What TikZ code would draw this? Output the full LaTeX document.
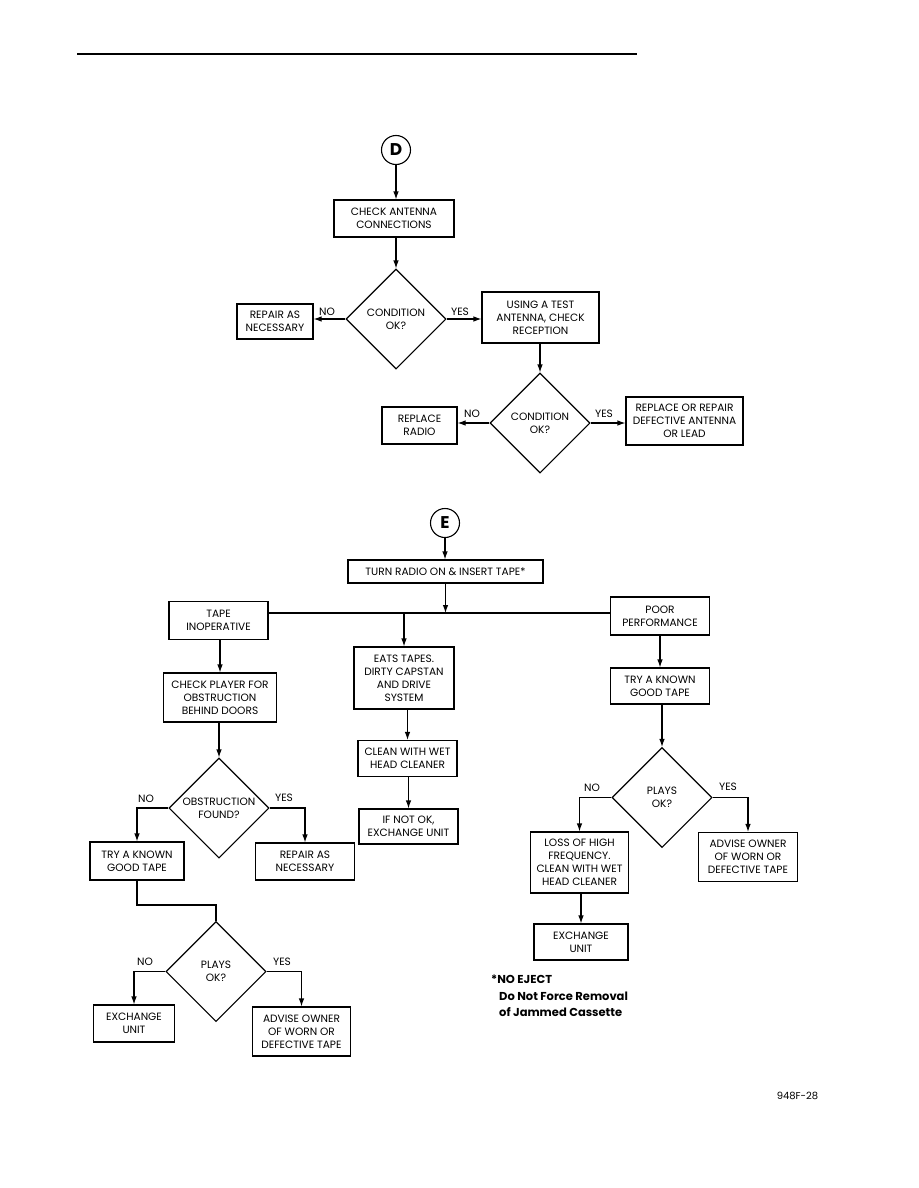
\documentclass[tikz,border=0pt]{standalone}
\usepackage{fontspec}
\setmainfont{Poppins}
\usetikzlibrary{arrows.meta,shapes.geometric}
\begin{document}
\begin{tikzpicture}[x=1pt,y=-1pt,
  every node/.style={font=\fontsize{10.6}{13}\selectfont},
  box/.style={draw,line width=1.1pt,rectangle,inner sep=0pt,align=center},
  dia/.style={draw,line width=1.1pt,diamond,aspect=1,inner sep=0pt,minimum width=100pt,minimum height=100pt,align=center},
  circ/.style={draw,line width=1.1pt,circle,inner sep=0pt,minimum size=29pt,font=\fontsize{17}{17}\selectfont\bfseries},
  lbl/.style={inner sep=0pt},
  conn/.style={line width=1.1pt},
  arr/.style={line width=1.1pt,-{Latex[length=8pt,width=5.5pt]}}
]
\useasboundingbox (0,0) rectangle (918,1188);
\draw[line width=2pt] (77,54) -- (637,54);

% ---- D section ----
\node[circ] (D) at (396,150) {D};
\node[box,minimum width=120pt,minimum height=37pt] (b1) at (394,218.5) {CHECK ANTENNA\\CONNECTIONS};
\node[dia] (d1) at (396,319) {CONDITION\\OK?};
\node[box,minimum width=76pt,minimum height=35pt] (r1) at (275,321.5) {REPAIR AS\\NECESSARY};
\node[box,minimum width=117pt,minimum height=51pt] (u1) at (540.5,317.5) {USING A TEST\\ANTENNA, CHECK\\RECEPTION};
\node[dia] (d2) at (540,423) {CONDITION\\OK?};
\node[box,minimum width=75pt,minimum height=37pt] (rr) at (419.5,425.5) {REPLACE\\RADIO};
\node[box,minimum width=117pt,minimum height=48pt] (rp) at (684.5,421) {REPLACE OR REPAIR\\DEFECTIVE ANTENNA\\OR LEAD};

\draw[arr] (D.south) -- (D.south |- b1.north);
\draw[arr] (d1.north |- b1.south) -- (d1.north);
\draw[arr] (d1.west) -- (d1.west -| r1.east);
\draw[arr] (d1.east) -- (d1.east -| u1.west);
\draw[arr] (d2.north |- u1.south) -- (d2.north);
\draw[arr] (d2.west) -- (d2.west -| rr.east);
\draw[arr] (d2.east) -- (d2.east -| rp.west);
\node[lbl] (n1) at (327,312) {NO};
\node[lbl] (y1) at (460,312) {YES};
\node[lbl] (n2) at (472,414) {NO};
\node[lbl] (y2) at (604,414) {YES};

% ---- E section ----
\node[circ] (E) at (445,523) {E};
\node[box,minimum width=195pt,minimum height=23pt] (t) at (445.5,571.5) {TURN RADIO ON \& INSERT TAPE*};
\coordinate (j) at (445.5,613);
\node[box,minimum width=99pt,minimum height=38pt] (ti) at (218.5,620.5) {TAPE\\INOPERATIVE};
\node[box,minimum width=99pt,minimum height=38pt] (pp) at (660,616) {POOR\\PERFORMANCE};
\node[box,minimum width=100pt,minimum height=62pt] (et) at (404,678) {EATS TAPES.\\DIRTY CAPSTAN\\AND DRIVE\\SYSTEM};
\node[box,minimum width=99pt,minimum height=36pt] (cl) at (407.5,758.5) {CLEAN WITH WET\\HEAD CLEANER};
\node[box,minimum width=99pt,minimum height=35pt] (ifn) at (408.5,826.5) {IF NOT OK,\\EXCHANGE UNIT};
\node[box,minimum width=113pt,minimum height=49pt] (cp) at (220,697.5) {CHECK PLAYER FOR\\OBSTRUCTION\\BEHIND DOORS};
\node[dia] (d3) at (219,808) {OBSTRUCTION\\FOUND?};
\node[box,minimum width=94pt,minimum height=38pt] (tg1) at (137,861) {TRY A KNOWN\\GOOD TAPE};
\node[box,minimum width=99pt,minimum height=37pt] (ra2) at (305,861.5) {REPAIR AS\\NECESSARY};
\node[dia] (d4) at (216,971.5) {PLAYS\\OK?};
\node[box,minimum width=81pt,minimum height=37pt] (ex1) at (134,1023.5) {EXCHANGE\\UNIT};
\node[box,minimum width=98pt,minimum height=49pt] (ad1) at (301.5,1031.5) {ADVISE OWNER\\OF WORN OR\\DEFECTIVE TAPE};
\node[box,minimum width=99pt,minimum height=36pt] (tg2) at (660,686) {TRY A KNOWN\\GOOD TAPE};
\node[dia] (d5) at (662,797.5) {PLAYS\\OK?};
\node[box,minimum width=98pt,minimum height=61pt] (lf) at (579.5,862.5) {LOSS OF HIGH\\FREQUENCY.\\CLEAN WITH WET\\HEAD CLEANER};
\node[box,minimum width=99pt,minimum height=49pt] (ad2) at (748,857) {ADVISE OWNER\\OF WORN OR\\DEFECTIVE TAPE};
\node[box,minimum width=94pt,minimum height=36pt] (ex2) at (581,942) {EXCHANGE\\UNIT};
\coordinate (k) at (0,905);

\draw[arr] (E.south) -- (E.south |- t.north);
\draw[arr] (t.south) -- (j);
\draw[conn] (ti.east |- j) -- (pp.west |- j);
\draw[arr] (et.north |- j) -- (et.north);
\draw[arr] (et.south -| cl.north) -- (cl.north);
\draw[arr] (cl.south -| ifn.north) -- (ifn.north);
\draw[arr] (ti.south -| cp.north) -- (cp.north);
\draw[arr] (cp.south -| d3.north) -- (d3.north);
\draw[arr] (d3.west) -| (tg1.north);
\draw[arr] (d3.east) -| (ra2.north);
\draw[conn] (tg1.south) -- (tg1.south |- k) -- (d4.north |- k) -- (d4.north);
\draw[arr] (d4.west) -| (ex1.north);
\draw[arr] (d4.east) -| (ad1.north);
\draw[arr] (pp.south -| tg2.north) -- (tg2.north);
\draw[arr] (tg2.south -| d5.north) -- (d5.north);
\draw[arr] (d5.west) -| (lf.north);
\draw[arr] (d5.east) -| (ad2.north);
\draw[arr] (lf.south -| ex2.north) -- (ex2.north);
\node[lbl] (n3) at (146,799) {NO};
\node[lbl] (y3) at (284,798) {YES};
\node[lbl] (n4) at (145,962) {NO};
\node[lbl] (y4) at (282,962) {YES};
\node[lbl] (n5) at (592,788) {NO};
\node[lbl] (y5) at (728,787) {YES};

\node[lbl,anchor=north west,align=left,font=\fontsize{11.5}{16.3}\selectfont\bfseries] (note) at (491,975) {*NO EJECT\\\hspace*{8pt}Do Not Force Removal\\\hspace*{8pt}of Jammed Cassette};
\node[lbl,font=\fontsize{10}{10}\selectfont] (fig) at (797.5,1096) {948F-28};
\end{tikzpicture}
\end{document}
